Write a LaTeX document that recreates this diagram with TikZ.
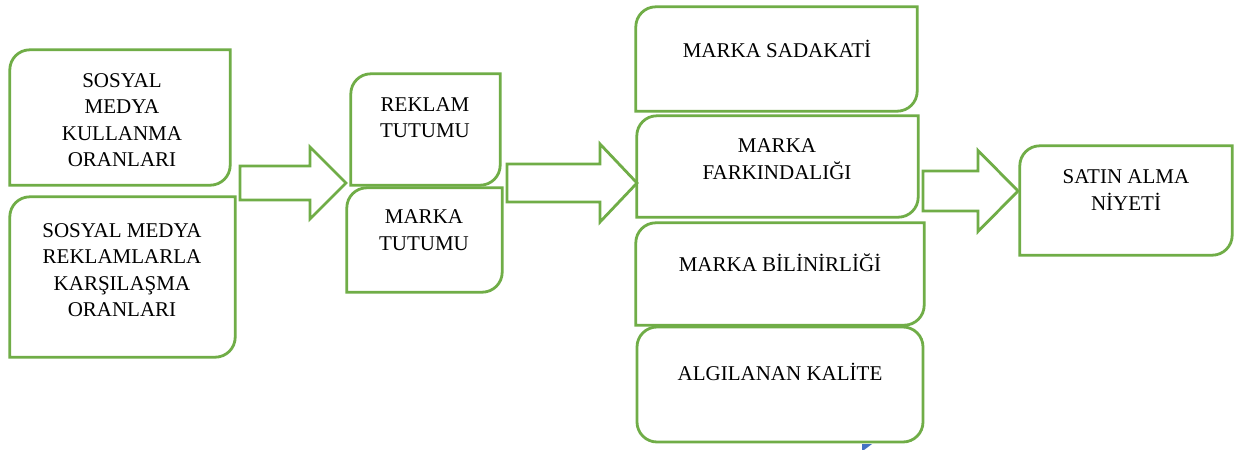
\documentclass[tikz,border=0pt]{standalone}
\usepackage{fontspec}
\setmainfont{Liberation Serif}
\definecolor{grn}{HTML}{70AD47}
\definecolor{blu}{HTML}{4472C4}
\tikzset{
  boxline/.style={draw=grn, line width=2.8pt},
  boxnode/.style={rectangle, inner sep=0pt, draw=none},
  lbl/.style={align=center, font=\fontsize{21}{26.5}\selectfont, inner sep=0pt},
  blockarrow/.style={draw=grn, line width=2.8pt, line join=miter, fill=white},
}
\newcommand\tlbr[1]{%
  \draw[boxline] (#1.north east) -- ([xshift=20pt]#1.north west)
    arc[start angle=90,end angle=180,radius=20pt] -- (#1.south west)
    -- ([xshift=-20pt]#1.south east)
    arc[start angle=270,end angle=360,radius=20pt] -- cycle;}
\newcommand\barrow[6]{%
  \draw[blockarrow] ({#1},{#4-#5}) -- ({#2},{#4-#5}) -- ({#2},{#4-#6}) -- ({#3},{#4})
    -- ({#2},{#4+#6}) -- ({#2},{#4+#5}) -- ({#1},{#4+#5}) -- cycle;}
\begin{document}
\begin{tikzpicture}[x=1pt,y=-1pt]
\useasboundingbox[fill=white] (0,0) rectangle (1243,450);
% boxes
\node[boxnode, minimum width=220pt, minimum height=135pt] (b1) at (120,117.5) {};
\node[boxnode, minimum width=225pt, minimum height=160pt] (b2) at (122.5,277) {};
\node[boxnode, minimum width=149pt, minimum height=111pt] (b3) at (425.5,129.5) {};
\node[boxnode, minimum width=155pt, minimum height=104pt] (b4) at (424.5,240) {};
\node[boxnode, minimum width=281pt, minimum height=104pt] (b5) at (776.5,59) {};
\node[boxnode, minimum width=281pt, minimum height=101pt] (b6) at (777.5,166.5) {};
\node[boxnode, minimum width=288pt, minimum height=102pt] (b7) at (780,274) {};
\node[boxnode, minimum width=212pt, minimum height=109pt] (b9) at (1126,200.5) {};
\tlbr{b1}\tlbr{b2}\tlbr{b3}\tlbr{b4}\tlbr{b5}\tlbr{b6}\tlbr{b7}\tlbr{b9}
\node[boxnode, boxline, rounded corners=20pt, minimum width=286pt, minimum height=115pt] (b8) at (780,384.5) {};
% labels
\node[lbl] (l1) at (122,120) {SOSYAL\\MEDYA\\KULLANMA\\ORANLARI};
\node[lbl] (l2) at (122,270) {SOSYAL MEDYA\\REKLAMLARLA\\KARŞILAŞMA\\ORANLARI};
\node[lbl] (l3) at (425,117.5) {REKLAM\\TUTUMU};
\node[lbl] (l4) at (424,230) {MARKA\\TUTUMU};
\node[lbl] (l5) at (777,49) {MARKA SADAKATİ};
\node[lbl] (l6) at (777,159) {MARKA\\FARKINDALIĞI};
\node[lbl] (l7) at (780,263) {MARKA BİLİNİRLİĞİ};
\node[lbl] (l8) at (780,372) {ALGILANAN KALİTE};
\node[lbl] (l9) at (1126,190) {SATIN ALMA\\NİYETİ};
% block arrows
\barrow{240}{310}{346}{183}{17}{36}
\barrow{507}{600}{637}{183}{19}{39}
\barrow{923}{978}{1018}{191}{20}{40.5}
% small blue fragment
\fill[blu] (862,444) -- (872,444) -- (864,450) -- (862,450) -- cycle;
\end{tikzpicture}
\end{document}
